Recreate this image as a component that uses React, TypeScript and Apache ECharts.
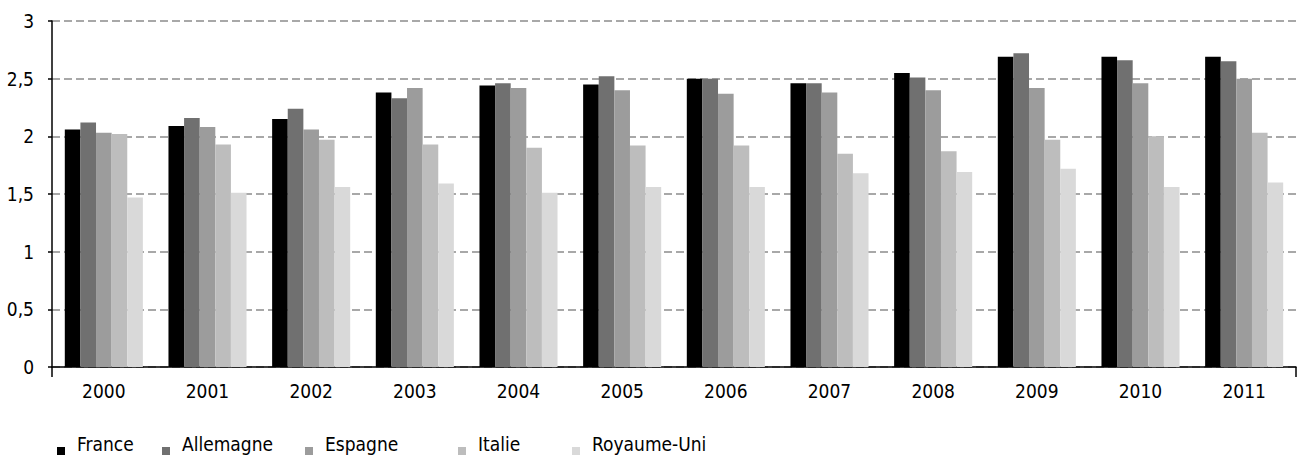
import React, { useEffect, useRef } from "react";
import * as echarts from "echarts";

const years = ["2000", "2001", "2002", "2003", "2004", "2005", "2006", "2007", "2008", "2009", "2010", "2011"];
const france = [2.06, 2.09, 2.15, 2.38, 2.44, 2.45, 2.5, 2.46, 2.55, 2.69, 2.69, 2.69];
const allemagne = [2.12, 2.16, 2.24, 2.33, 2.46, 2.52, 2.5, 2.46, 2.51, 2.72, 2.66, 2.65];
const espagne = [2.03, 2.08, 2.06, 2.42, 2.42, 2.4, 2.37, 2.38, 2.4, 2.42, 2.46, 2.5];
const italie = [2.02, 1.93, 1.97, 1.93, 1.9, 1.92, 1.92, 1.85, 1.87, 1.97, 2.0, 2.03];
const royaumeUni = [1.47, 1.51, 1.56, 1.59, 1.51, 1.56, 1.56, 1.68, 1.69, 1.72, 1.56, 1.6];

const seriesNames = ["France", "Allemagne", "Espagne", "Italie", "Royaume-Uni"];
const seriesData = [france, allemagne, espagne, italie, royaumeUni];
const colors = ["#000000", "#707070", "#9c9c9c", "#bdbdbd", "#d9d9d9"];
const legendLefts = [57, 162, 305, 458, 572];

const FONT = '"DejaVu Sans Condensed", "Liberation Sans Narrow", sans-serif';
const FS = 19;

export default function App() {
  const ref = useRef<HTMLDivElement>(null);
  useEffect(() => {
    document.body.style.margin = "0";
    const chart = echarts.init(ref.current!, null, { renderer: "svg" });
    chart.setOption({
      animation: false,
      backgroundColor: "#ffffff",
      textStyle: { fontFamily: FONT },
      grid: { left: 52, right: 3, top: 21, bottom: 94, containLabel: false },
      legend: seriesNames.map((n, i) => ({
        data: [n],
        left: legendLefts[i],
        top: 433,
        padding: 0,
        icon: "path://M0,0M0,14L8,14L8,22L0,22Z",
        itemWidth: 8,
        itemHeight: 22,
        selectedMode: false,
        textStyle: {
          fontFamily: FONT,
          fontSize: FS,
          color: "#000",
          padding: [0, 0, 0, 7],
        },
      })),
      xAxis: {
        type: "category",
        data: years,
        axisLine: { show: true, lineStyle: { color: "#000", width: 1.5 } },
        axisTick: {
          show: true,
          length: 10,
          interval: (i: number) => i === 0,
          lineStyle: { color: "#000", width: 1.5 },
        },
        axisLabel: { fontFamily: FONT, fontSize: FS, color: "#000", margin: 14 },
        splitLine: { show: false },
      },
      yAxis: {
        type: "value",
        min: 0,
        max: 3,
        interval: 0.5,
        axisLine: { show: true, lineStyle: { color: "#000", width: 1.5 } },
        axisTick: { show: true, length: 4, lineStyle: { color: "#000", width: 1.5 } },
        axisLabel: {
          fontFamily: FONT,
          fontSize: FS,
          color: "#000",
          margin: 18,
          formatter: (v: number) => String(v).replace(".", ","),
        },
        splitLine: {
          show: true,
          lineStyle: { color: "#8c8c8c", width: 1.5, type: [8, 4] },
        },
      },
      series: seriesNames.map((n, i) => ({
        name: n,
        type: "bar",
        data: seriesData[i],
        itemStyle: { color: colors[i] },
        barGap: "0%",
        barCategoryGap: "24.7%",
      })),
    });
    return () => chart.dispose();
  }, []);
  return <div ref={ref} style={{ width: 1299, height: 461, position: "absolute", left: 0, top: 0 }} />;
}
